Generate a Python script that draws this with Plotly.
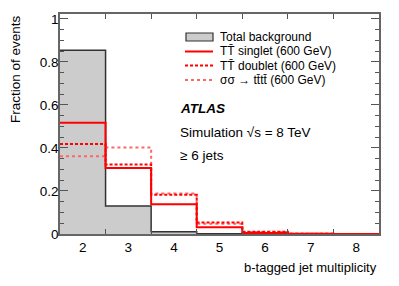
import plotly.graph_objects as go

bins = [2, 3, 4, 5, 6, 7, 8]
tick_labels = ["2", "3", "4", "5", "6", "7", "8"]
background = [0.854, 0.130, 0.010, 0.001, 0.0, 0.0, 0.0]
singlet = [0.517, 0.307, 0.138, 0.031, 0.005, 0.001, 0.0]
doublet = [0.418, 0.323, 0.182, 0.053, 0.010, 0.001, 0.0]
sigma = [0.362, 0.402, 0.188, 0.048, 0.009, 0.001, 0.0]

edges = [b - 0.5 for b in bins] + [bins[-1] + 0.5]


def step(vals):
    return edges, list(vals) + [vals[-1]]


FONT = "Liberation Sans, Arial, sans-serif"
fig = go.Figure()

x, y = step(background)
fig.add_trace(go.Scatter(x=x, y=y, mode="lines", line=dict(shape="hv", color="#333333", width=1.5),
                         fill="tozeroy", fillcolor="#cccccc", showlegend=False, hoverinfo="skip"))
x, y = step(sigma)
fig.add_trace(go.Scatter(x=x, y=y, mode="lines", line=dict(shape="hv", color="#ff6666", width=2, dash="dot"),
                         showlegend=False, hoverinfo="skip"))
x, y = step(doublet)
fig.add_trace(go.Scatter(x=x, y=y, mode="lines", line=dict(shape="hv", color="#ff0000", width=2, dash="3px,2px"),
                         showlegend=False, hoverinfo="skip"))
x, y = step(singlet)
fig.add_trace(go.Scatter(x=x, y=y, mode="lines", line=dict(shape="hv", color="#ff0000", width=2),
                         showlegend=False, hoverinfo="skip"))
# invisible trace on top axis so that top ticks are drawn
fig.add_trace(go.Scatter(x=[edges[0]], y=[0], xaxis="x2", mode="lines", showlegend=False, hoverinfo="skip",
                         line=dict(width=0)))

W, H = 399, 286
L, R, T, B = 60, 20, 14, 52
pw, ph = W - L - R, H - T - B


def px(xp):
    return (xp - L) / pw


def py(yp):
    return (H - B - yp) / ph


shapes = []
ann = []
# legend
rows = [37, 51.5, 65.5, 80]
shapes.append(dict(type="rect", xref="paper", yref="paper", x0=px(186), x1=px(213), y0=py(rows[0] + 4), y1=py(rows[0] - 4),
                   fillcolor="#cccccc", line=dict(color="#333333", width=1.2)))
shapes.append(dict(type="line", xref="paper", yref="paper", x0=px(185), x1=px(213), y0=py(rows[1]), y1=py(rows[1]),
                   line=dict(color="#ff0000", width=2)))
shapes.append(dict(type="line", xref="paper", yref="paper", x0=px(185), x1=px(213), y0=py(rows[2]), y1=py(rows[2]),
                   line=dict(color="#ff0000", width=2, dash="3px,2px")))
shapes.append(dict(type="line", xref="paper", yref="paper", x0=px(185), x1=px(213), y0=py(rows[3]), y1=py(rows[3]),
                   line=dict(color="#ff6666", width=2, dash="dot")))
texts = ["Total background", "TT\u0304 singlet (600 GeV)", "TT\u0304 doublet (600 GeV)",
         "\u03c3\u03c3 \u2192 tt\u0304tt\u0304 (600 GeV)"]
for r, t in zip(rows, texts):
    ann.append(dict(text=t, xref="paper", yref="paper", x=px(218), y=py(r), xanchor="left", yanchor="middle",
                    showarrow=False, font=dict(family=FONT, size=12, color="black")))
ann.append(dict(text="<b><i>ATLAS</i></b>", xref="paper", yref="paper", x=px(178), y=py(108), xanchor="left",
                yanchor="middle", showarrow=False, font=dict(family=FONT, size=13.5, color="black")))
ann.append(dict(text="Simulation \u221as = 8 TeV", xref="paper", yref="paper", x=px(178), y=py(132.5), xanchor="left",
                yanchor="middle", showarrow=False, font=dict(family=FONT, size=13.5, color="black")))
ann.append(dict(text="\u2265 6 jets", xref="paper", yref="paper", x=px(178), y=py(155), xanchor="left",
                yanchor="middle", showarrow=False, font=dict(family=FONT, size=13.5, color="black")))
ann.append(dict(text="b-tagged jet multiplicity", xref="paper", yref="paper", x=1, y=py(267), xanchor="right",
                yanchor="middle", showarrow=False, font=dict(family=FONT, size=13, color="black")))
ann.append(dict(text="Fraction of events", xref="paper", yref="paper", x=px(16), y=1 + (T - 13) / ph, xanchor="center",
                yanchor="top", textangle=-90, showarrow=False, font=dict(family=FONT, size=13.5, color="black")))

fig.update_layout(
    width=W, height=H, margin=dict(l=L, r=R, t=T, b=B),
    plot_bgcolor="white", paper_bgcolor="white",
    shapes=shapes, annotations=ann,
    font=dict(family=FONT, size=13.5, color="black"),
    xaxis=dict(range=[1.5, 8.5], tickvals=bins, ticktext=tick_labels, ticks="", ticklen=0,
               showline=True, linecolor="#666666", linewidth=1.5, mirror=True, showgrid=False, zeroline=False,
               minor=dict(tickvals=[e for e in edges[1:-1]], ticks="inside", ticklen=5, tickcolor="#555555",
                          showgrid=False),
               tickfont=dict(size=13.5)),
    xaxis2=dict(range=[1.5, 8.5], overlaying="x", side="top", tickvals=edges[1:-1], ticks="inside", ticklen=5,
                tickcolor="#555555", showticklabels=False, showgrid=False, zeroline=False, showline=False),
    yaxis=dict(range=[0, 1.023], tickvals=[0, 0.2, 0.4, 0.6, 0.8, 1.0], ticktext=["0", "0.2", "0.4", "0.6", "0.8", "1"],
               ticks="inside", ticklen=8, tickcolor="#555555", showline=True, linecolor="#666666", linewidth=1.5,
               mirror="ticks", showgrid=False, zeroline=False, ticklabelstandoff=-3,
               minor=dict(dtick=0.05, ticks="inside", ticklen=4, tickcolor="#555555", showgrid=False),
               tickfont=dict(size=13.5)),
)

fig.write_html("out.html", post_script="document.body.style.margin='0';",
               config={"displayModeBar": False})
